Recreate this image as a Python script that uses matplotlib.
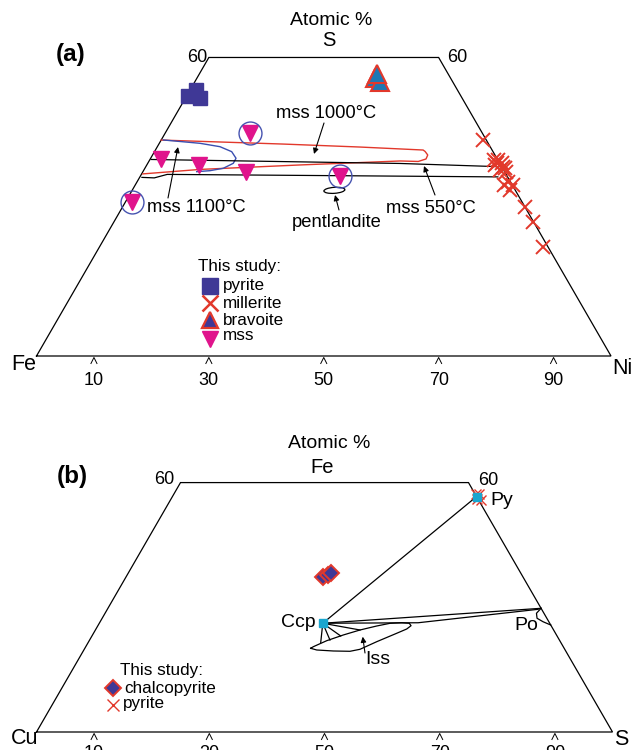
import numpy as np
import matplotlib
matplotlib.use("Agg")
import matplotlib.pyplot as plt
from matplotlib.patches import Ellipse

plt.rcParams['font.family'] = ['Liberation Sans', 'DejaVu Sans']

# ============ DATA: panel (a) Fe-Ni-S, atomic %  (S, Ni); Fe = 100 - S - Ni
pyrite_a_S = [52.3, 53.5, 51.9]
pyrite_a_Ni = [0.2, 1.0, 2.5]
bravoite_S = [55.9, 55.1, 56.7]
bravoite_Ni = [31.0, 32.3, 30.9]
millerite_S = [43.4, 38.4, 37.4, 37.8, 39.4, 38.8, 38.8, 38.0, 37.0, 39.4,
               35.0, 33.4, 34.4, 34.4, 30.0, 26.9, 21.9]
millerite_Ni = [56.0, 60.6, 62.0, 62.7, 60.6, 61.6, 60.8, 62.2, 63.2, 59.9,
                64.6, 65.7, 65.8, 64.1, 70.1, 73.0, 77.2]
mss_S = [44.8, 39.6, 38.4, 37.0, 36.2, 31.0]
mss_Ni = [14.8, 1.9, 9.1, 18.0, 34.7, 1.1]
mss_circled = [True, False, False, False, True, True]

# phase-field outlines (S, Ni)
mss1000_S = [43.4, 42.6, 42.0, 41.4, 41.1, 40.4, 39.6, 39.1, 39.2, 38.4, 37.5, 36.6]
mss1000_Ni = [0.0, 21.6, 35.3, 46.6, 47.1, 47.9, 48.0, 46.9, 43.7, 26.7, 9.7, 0.2]
mss1100_S = [43.42, 42.75, 42.07, 41.07, 39.74, 38.73, 37.73, 37.25, 37.05]
mss1100_Ni = [0.36, 7.09, 10.90, 13.44, 14.86, 14.89, 13.65, 11.58, 9.36]
mss550_upper_S = [39.5, 38.7, 38.05]
mss550_upper_Ni = [0.2, 43.9, 61.5]
mss550_lower_S = [35.9, 35.8, 36.5, 36.3, 36.0]
mss550_lower_Ni = [0.4, 2.6, 4.5, 27.7, 62.3]
pentlandite_S, pentlandite_Ni = 33.3, 35.2

# ============ DATA: panel (b) Cu-Fe-S, atomic %  (Fe, S); Cu = 100 - Fe - S
ccp_data_Fe = [31.1, 31.5, 31.8]
ccp_data_S = [34.2, 34.8, 35.2]
py_data_Fe = [47.7, 46.5, 47.7, 46.7]
py_data_S = [52.4, 53.9, 52.9, 53.1]
Ccp_ref = (21.8, 38.8)
Py_ref = (47.2, 52.8)
Po_ref = (24.8, 75.2)
iss_end = (21.9, 55.3)
po_lower_end = (24.6, 74.8)
po_arc_Fe = [24.8, 23.8, 22.8, 22.1, 21.45]
po_arc_S = [75.2, 74.9, 75.5, 76.9, 78.55]
iss_Fe = [16.78, 16.44, 16.24, 16.18, 16.58, 18.10, 19.79, 20.65, 21.31, 21.79,
          21.91, 21.79, 21.25, 20.45, 19.45, 18.30, 17.10, 16.78]
iss_S = [39.21, 40.43, 43.41, 46.34, 47.87, 50.01, 52.64, 53.95, 54.37, 53.83,
         52.45, 50.48, 48.44, 45.94, 43.54, 41.23, 39.51, 39.21]
iss_tie_Fe = [17.9, 18.44, 19.25, 20.45]
iss_tie_S = [40.39, 41.73, 43.19, 45.94]

tick_values = [10, 30, 50, 70, 90]
top_label = "60"

# ============ LAYOUT
W, H, DPI = 632, 750, 100
SQ = np.sqrt(3) / 2

RED = '#e2382b'
PYR_BLUE = '#3f3896'
MAG = '#e0148c'
RING = '#4653b0'
CYAN = '#1aa6cf'
BRAV = '#1e78b4'
BLUE_LOOP = '#3a4eb0'

FS_LAB = 13.2     # annotation labels
FS_LEG = 12.3     # legend labels
FS_CORNER = 15.5
FS_TICK = 13

fig = plt.figure(figsize=(W / DPI, H / DPI), dpi=DPI)
fig.patch.set_facecolor('white')


def fpos(x, y):
    return (x / W, 1 - y / H)


def ftext(x, y, s, **kw):
    fig.text(x / W, 1 - y / H, s, **kw)


def farrow(tail, head):
    fig.add_artist(matplotlib.patches.FancyArrowPatch(
        fpos(*tail), fpos(*head), transform=fig.transFigure,
        arrowstyle='-|>', mutation_scale=8, lw=0.8, color='k',
        shrinkA=0, shrinkB=0))


def make_axes(origin_x, base_y, side, top_px, bot_px):
    scale = side / 100.0
    ax = fig.add_axes([0, 1 - bot_px / H, 1, (bot_px - top_px) / H])
    ax.set_xlim(-origin_x / scale, (W - origin_x) / scale)
    ax.set_ylim((base_y - bot_px) / scale, (base_y - top_px) / scale)
    ax.set_axis_off()
    return ax, scale


def tern_a(S, Ni):
    S = np.asarray(S, float); Ni = np.asarray(Ni, float)
    return Ni + S / 2, S * SQ


def tern_b(Fe, S):
    Fe = np.asarray(Fe, float); S = np.asarray(S, float)
    return S + Fe / 2, Fe * SQ


def trapezoid(ax, top):
    xs = [0, 100, 100 - top / 2, top / 2, 0]
    ys = [0, 0, top * SQ, top * SQ, 0]
    ax.plot(xs, ys, color='k', lw=0.9, solid_joinstyle='miter')


def carets(ax, scale):
    for t in tick_values:
        ax.plot([t - 3 / scale, t, t + 3 / scale],
                [-7.5 / scale, -1.5 / scale, -7.5 / scale], color='k', lw=0.7)


# ---------------- panel (a)
axa, sa = make_axes(36.5, 356, 574.5, 0, 390)
trapezoid(axa, 60)
carets(axa, sa)

x, y = tern_a(mss1000_S, mss1000_Ni)
axa.plot(x, y, color=RED, lw=1.0)
x, y = tern_a(mss1100_S, mss1100_Ni)
axa.plot(x, y, color=BLUE_LOOP, lw=1.0)
x, y = tern_a(mss550_upper_S, mss550_upper_Ni)
axa.plot(x, y, color='k', lw=0.9)
x, y = tern_a(mss550_lower_S, mss550_lower_Ni)
axa.plot(x, y, color='k', lw=0.9)
px, py = tern_a(pentlandite_S, pentlandite_Ni)
axa.add_patch(Ellipse((px, py), 21 / sa, 6 / sa, angle=4, fill=False, ec='k', lw=0.9))

x, y = tern_a(pyrite_a_S, pyrite_a_Ni)
axa.plot(x, y, 's', ms=10.5, color=PYR_BLUE, mec=PYR_BLUE, ls='none', zorder=5)
x, y = tern_a(bravoite_S, bravoite_Ni)
axa.plot(x, y, '^', ms=12.5, mfc=BRAV, mec=RED, mew=1.5, ls='none', zorder=5)
x, y = tern_a(millerite_S, millerite_Ni)
axa.plot(x, y, 'x', ms=10, mec=RED, mew=1.4, ls='none', zorder=5)
x, y = tern_a(mss_S, mss_Ni)
axa.plot(x, y, 'v', ms=11, color=MAG, ls='none', zorder=6)
circ = np.array(mss_circled)
axa.plot(x[circ], y[circ], 'o', ms=16.5, mfc='none', mec=RING, mew=1.0, ls='none', zorder=6)

# texts (a)
ftext(331.6, 20.8, 'Atomic %', fontsize=14, ha='center', va='center')
ftext(328.5, 40.8, 'S', fontsize=14.5, ha='center', va='center')
ftext(71, 54, '(a)', fontsize=17.5, fontweight='bold', ha='center', va='center')
ftext(197, 58, top_label, fontsize=FS_TICK, ha='center', va='center')
ftext(457, 58, top_label, fontsize=FS_TICK, ha='center', va='center')
ftext(24, 364, 'Fe', fontsize=FS_CORNER, ha='center', va='center')
ftext(622, 369, 'Ni', fontsize=FS_CORNER, ha='center', va='center')
for t in tick_values:
    axa.text(t, -24.5 / sa, str(t), fontsize=FS_TICK, ha='center', va='center')

ftext(326, 114, 'mss 1000°C', fontsize=FS_LAB, ha='center', va='center')
ftext(196.5, 207, 'mss 1100°C', fontsize=FS_LAB, ha='center', va='center')
ftext(431, 208.5, 'mss 550°C', fontsize=FS_LAB, ha='center', va='center')
ftext(336.6, 222.5, 'pentlandite', fontsize=FS_LAB, ha='center', va='center')
farrow((324, 123), (314, 154))
farrow((168, 198), (178, 147))
farrow((435, 195), (424, 166))
farrow((339, 210), (335, 195))

# legend (a)
ftext(198, 271, 'This study:', fontsize=FS_LEG, ha='left', va='baseline')
leg_a = [('s', dict(color=PYR_BLUE), 'pyrite', 285.8, 290),
         ('x', dict(mec=RED, mew=1.8), 'millerite', 303.3, 308.5),
         ('^', dict(mfc=PYR_BLUE, mec=RED, mew=1.6), 'bravoite', 320.3, 325.5),
         ('v', dict(color=MAG), 'mss', 338.8, 340.5)]
for m, kw, lab, my, ty in leg_a:
    fig.lines.append(matplotlib.lines.Line2D([210 / W], [1 - my / H], marker=m, ms=11.5,
                                             ls='none', transform=fig.transFigure, **kw))
    ftext(223, ty, lab, fontsize=FS_LEG, ha='left', va='baseline')

# ---------------- panel (b)
axb, sb = make_axes(36.5, 732, 576, 390, 750)
trapezoid(axb, 50)
carets(axb, sb)


def seg(ax, a, b, **kw):
    x, y = tern_b([a[0], b[0]], [a[1], b[1]])
    ax.plot(x, y, color='k', lw=0.9, **kw)


seg(axb, Ccp_ref, Py_ref)
seg(axb, Ccp_ref, Po_ref)
x, y = tern_b([Ccp_ref[0], iss_end[0], po_lower_end[0]], [Ccp_ref[1], iss_end[1], po_lower_end[1]])
axb.plot(x, y, color='k', lw=0.9)
x, y = tern_b(po_arc_Fe, po_arc_S)
axb.plot(x, y, color='k', lw=0.9)
x, y = tern_b(iss_Fe, iss_S)
axb.plot(x, y, color='k', lw=0.9)
for fe, s in zip(iss_tie_Fe, iss_tie_S):
    seg(axb, Ccp_ref, (fe, s))

x, y = tern_b(*Ccp_ref)
axb.plot([x], [y], 's', ms=5.5, color=CYAN, zorder=6)
x, y = tern_b(*Py_ref)
axb.plot([x], [y], 's', ms=5.5, color=CYAN, zorder=6)
x, y = tern_b(py_data_Fe, py_data_S)
axb.plot(x, y, 'x', ms=7, mec=RED, mew=1.0, ls='none', zorder=5)
x, y = tern_b(ccp_data_Fe, ccp_data_S)
axb.plot(x, y, 'D', ms=8, mfc=PYR_BLUE, mec=RED, mew=1.4, ls='none', zorder=5)

ftext(329.5, 443, 'Atomic %', fontsize=14, ha='center', va='center')
ftext(322.5, 467.5, 'Fe', fontsize=14.5, ha='center', va='center')
ftext(72, 476, '(b)', fontsize=17.5, fontweight='bold', ha='center', va='center')
ftext(164, 480, top_label, fontsize=FS_TICK, ha='center', va='center')
ftext(488, 480.5, top_label, fontsize=FS_TICK, ha='center', va='center')
ftext(25, 739, 'Cu', fontsize=FS_CORNER, ha='center', va='center')
ftext(621, 739.5, 'S', fontsize=FS_CORNER, ha='center', va='center')
for t in tick_values:
    axb.text(t, -21.5 / sb, str(t), fontsize=FS_TICK, ha='center', va='center')

ftext(490, 500.5, 'Py', fontsize=14, ha='left', va='center')
ftext(316, 622.5, 'Ccp', fontsize=14, ha='right', va='center')
ftext(526, 625, 'Po', fontsize=14, ha='center', va='center')
ftext(377.5, 659, 'Iss', fontsize=14, ha='center', va='center')
farrow((365, 653), (362.7, 636.7))

ftext(120, 674.5, 'This study:', fontsize=FS_LEG, ha='left', va='baseline')
fig.lines.append(matplotlib.lines.Line2D([113.3 / W], [1 - 688.3 / H], marker='D', ms=8,
                                         mfc=PYR_BLUE, mec=RED, mew=1.4, ls='none',
                                         transform=fig.transFigure))
ftext(124, 692.5, 'chalcopyrite', fontsize=FS_LEG, ha='left', va='baseline')
fig.lines.append(matplotlib.lines.Line2D([112.8 / W], [1 - 705.3 / H], marker='x', ms=8,
                                         mec=RED, mew=1.0, ls='none',
                                         transform=fig.transFigure))
ftext(123, 708, 'pyrite', fontsize=FS_LEG, ha='left', va='baseline')

fig.savefig('out.png', dpi=DPI)
